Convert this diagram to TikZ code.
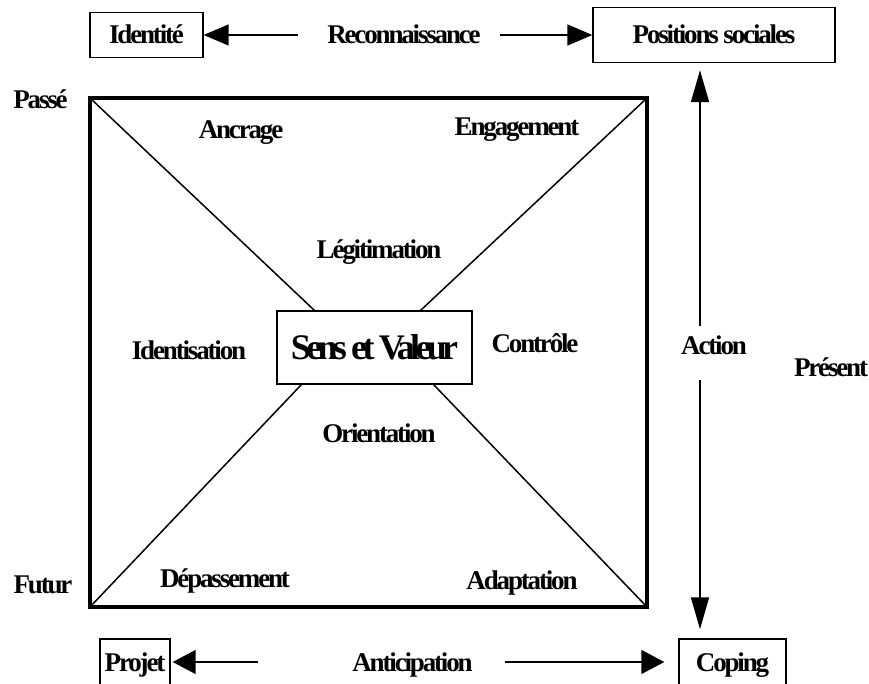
\documentclass[tikz,border=0pt]{standalone}
\usepackage{fontspec}
\setmainfont{Liberation Serif}[LetterSpace=-8]
\newfontfamily\grandfont{Liberation Serif}[LetterSpace=-13]
\usetikzlibrary{arrows.meta,calc}
\tikzset {>={Triangle[length=25pt,width=21pt]}}
\tikzset{
  lbl/.style={font=\fontsize{27}{32}\selectfont\bfseries,inner sep=0pt,anchor=base},
  cadre/.style={draw,line width=1.4pt,font=\fontsize{27}{32}\selectfont\bfseries,
    text height=18pt,text depth=0pt,inner sep=0pt},
  fin/.style={line width=1.5pt},
  vert/.style={fin,>={Triangle[length=32pt,width=18pt]}},
  bas/.style={fin,>={Triangle[length=23pt,width=24pt]}}
}

\begin{document}
\begin{tikzpicture}[x=1pt,y=-1pt]
\useasboundingbox (0,0) rectangle (869,684);

% grand carre
\path
  (90,98) coordinate (NW) --
  ++(557,0) coordinate (NE) --
  ++(0,509) coordinate (SE) --
  ++(-557,0) coordinate (SW);
\draw[line width=4pt] (NW) -- (NE) -- (SE) -- (SW) -- cycle;

\node[draw,fill=white,line width=1.4pt,inner sep=0pt,
  minimum width=195pt,minimum height=73pt,text height=24pt,text depth=0pt,
  font=\grandfont\fontsize{36}{40}\selectfont\bfseries]
  (sens) at (374.5,347.5) {Sens et Valeur};

\draw[fin] (NW) -- ($(sens.north west)+(38,0)$);
\draw[fin] (NE) -- ($(sens.north east)+(-52,0)$);
\draw[fin] (SW) -- ($(sens.south west)+(25,0)$);
\draw[fin] (SE) -- ($(sens.south east)+(-39,0)$);

% etiquettes
\foreach \nom/\pos/\txt in {
  ancrage/{241,139}/Ancrage,
  engagement/{517,136}/Engagement,
  legitimation/{379,259}/Légitimation,
  identisation/{189,359}/Identisation,
  controle/{535,352}/Contrôle,
  orientation/{379,442}/Orientation,
  depassement/{225,587}/Dépassement,
  adaptation/{522,589}/Adaptation,
  passe/{40.5,109}/Passé,
  futur/{43,593}/Futur,
  present/{831,376}/Présent,
  action/{714,354}/Action,
  reconnaissance/{404,44}/Reconnaissance,
  anticipation/{412.5,671}/Anticipation}
  \node[lbl] (\nom) at (\pos) {\txt};

% cadres
\node[cadre,minimum width=113pt,minimum height=45pt] (identite) at (146.5,35) {Identité};
\node[cadre,minimum width=242pt,minimum height=55pt] (positions) at (714,35) {Positions sociales};
\node[cadre,minimum width=70pt,minimum height=46pt] (projet) at (135,662) {Projet};
\node[cadre,minimum width=107pt,minimum height=46pt] (coping) at (732.5,662) {Coping};

% fleches
\coordinate (recoG) at (298,35);
\coordinate (recoD) at (500,35);
\draw[fin,->] (recoG) -- (identite.east);
\draw[fin,->] (recoD) -- (positions.west);

\coordinate (actionH) at (700,326);
\coordinate (actionB) at (700,380);
\draw[vert,->,shorten >=7pt] (actionH) -- (actionH |- positions.south);
\draw[vert,->,shorten >=9pt] (actionB) -- (actionB |- coping.north);

\coordinate (antiG) at (258,662);
\coordinate (antiD) at (505,662);
\draw[bas,->,shorten >=2pt] (antiG) -- (projet.east);
\draw[bas,->,shorten >=14pt] (antiD) -- (coping.west);
\end{tikzpicture}
\end{document}
